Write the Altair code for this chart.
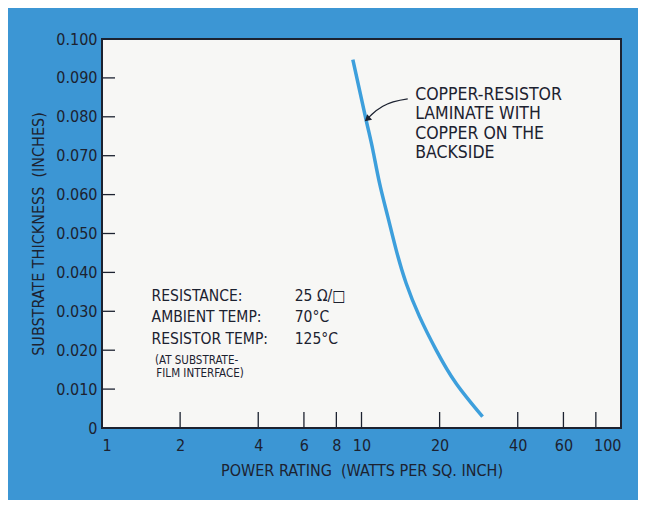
import altair as alt
import pandas as pd

# ---- data ----
power = [9.26, 10.41, 11.05, 11.73, 12.62, 13.60, 14.86, 16.72, 19.38, 23.13, 29.28]
thickness = [0.0947, 0.0793, 0.0716, 0.0630, 0.0544, 0.0458, 0.0372, 0.0287, 0.0201, 0.0115, 0.0029]

x_label_values = [1, 2, 4, 6, 8, 10, 20, 40, 60, 100]
x_inner_ticks = [2, 4, 6, 8, 10, 20, 40, 60, 80]
y_label_values = [0, 0.01, 0.02, 0.03, 0.04, 0.05, 0.06, 0.07, 0.08, 0.09, 0.1]
y_inner_ticks = [0.01, 0.02, 0.03, 0.04, 0.05, 0.06, 0.07, 0.08, 0.09]

curve_label = ["COPPER-RESISTOR", "LAMINATE WITH", "COPPER ON THE", "BACKSIDE"]
curve_label_x = [16.1, 16.1, 16.1, 16.1]
curve_label_y = [0.0857, 0.0806, 0.0757, 0.0708]

arrow_x = [15.07, 12.08, 10.95, 10.52]
arrow_y = [0.0846, 0.0827, 0.0806, 0.0794]

cond_labels = ["RESISTANCE:", "AMBIENT TEMP:", "RESISTOR TEMP:"]
cond_values = ["25 \u03a9/\u25a1", "70\u00b0C", "125\u00b0C"]
cond_label_x = [1.553, 1.553, 1.553]
cond_value_x = [5.53, 5.53, 5.53]
cond_y = [0.0340, 0.0285, 0.0230]

note_lines = ["(AT SUBSTRATE-", "FILM INTERFACE)"]
note_x = [1.60, 1.62]
note_y = [0.0172, 0.0138]

FONT = "Liberation Sans Narrow, DejaVu Sans Condensed, sans-serif"
INK = "#1c2230"
BLUE_BG = "#3c96d4"
CURVE = "#3d9fdc"
NBSP = "\u00a0"

W, H = 519, 389

xs = alt.Scale(type="log", domain=[1, 100], nice=False)
ys = alt.Scale(domain=[0, 0.1], nice=False)

x_axis = alt.Axis(
    title="POWER RATING " + NBSP + "(WATTS PER SQ. INCH)",
    values=x_label_values, format="~g", ticks=False, domain=False, grid=False,
    labelPadding=9, titlePadding=9,
)
y_axis = alt.Axis(
    title="SUBSTRATE THICKNESS " + NBSP + "(INCHES)",
    values=y_label_values,
    labelExpr="datum.value == 0 ? '0' : format(datum.value, '.3f')",
    ticks=False, domain=False, grid=False, labelPadding=5, titlePadding=9,
)


def X(field):
    return alt.X(field, type="quantitative", scale=xs, axis=x_axis)


def Y(field):
    return alt.Y(field, type="quantitative", scale=ys, axis=y_axis)


curve_df = pd.DataFrame({"x": power, "y": thickness})
curve = alt.Chart(curve_df).mark_line(
    color=CURVE, strokeWidth=3.5, interpolate="natural"
).encode(x=X("x"), y=Y("y"))

xt = alt.Chart(pd.DataFrame({"x": x_inner_ticks})).mark_rule(
    color=INK, strokeWidth=1.3
).encode(x=X("x"), y=alt.value(H), y2=alt.value(H - 16))

yt = alt.Chart(pd.DataFrame({"y": y_inner_ticks})).mark_rule(
    color=INK, strokeWidth=1.3
).encode(y=Y("y"), x=alt.value(0), x2=alt.value(13))

lab_df = pd.DataFrame({"x": curve_label_x, "y": curve_label_y, "s": curve_label})
lab = alt.Chart(lab_df).mark_text(
    align="left", baseline="middle", font=FONT, fontSize=17.5, color=INK
).encode(x=X("x"), y=Y("y"), text="s:N")

arr_df = pd.DataFrame({"x": arrow_x, "y": arrow_y, "o": list(range(len(arrow_x)))})
arr = alt.Chart(arr_df).mark_line(
    color=INK, strokeWidth=1.3, interpolate="monotone"
).encode(x=X("x"), y=Y("y"), order="o:O")

head_df = pd.DataFrame({"x": [arrow_x[-1]], "y": [arrow_y[-1]]})
head = alt.Chart(head_df).mark_point(
    shape="triangle-up", filled=True, color=INK, size=55, angle=229, opacity=1
).encode(x=X("x"), y=Y("y"))

c1_df = pd.DataFrame({"x": cond_label_x, "y": cond_y, "s": cond_labels})
c1 = alt.Chart(c1_df).mark_text(
    align="left", baseline="middle", font=FONT, fontSize=15.5, color=INK
).encode(x=X("x"), y=Y("y"), text="s:N")

c2_df = pd.DataFrame({"x": cond_value_x, "y": cond_y, "s": cond_values})
c2 = alt.Chart(c2_df).mark_text(
    align="left", baseline="middle", font=FONT, fontSize=15.5, color=INK
).encode(x=X("x"), y=Y("y"), text="s:N")

n_df = pd.DataFrame({"x": note_x, "y": note_y, "s": note_lines})
nt = alt.Chart(n_df).mark_text(
    align="left", baseline="middle", font=FONT, fontSize=11.5, color=INK
).encode(x=X("x"), y=Y("y"), text="s:N")

chart = alt.layer(curve, xt, yt, arr, head, lab, c1, c2, nt).properties(
    width=W, height=H,
    background=BLUE_BG,
    padding={"left": 94, "top": 31, "right": 17, "bottom": 72},
    autosize=alt.AutoSizeParams(type="none"),
).configure_view(
    fill="#f7f7f5", stroke=INK, strokeWidth=2
).configure_axis(
    labelFont=FONT, labelFontSize=16, labelColor=INK,
    titleFont=FONT, titleFontSize=16, titleColor=INK, titleFontWeight="normal",
)

chart.save("out.html", embed_options={"renderer": "svg", "actions": False})
